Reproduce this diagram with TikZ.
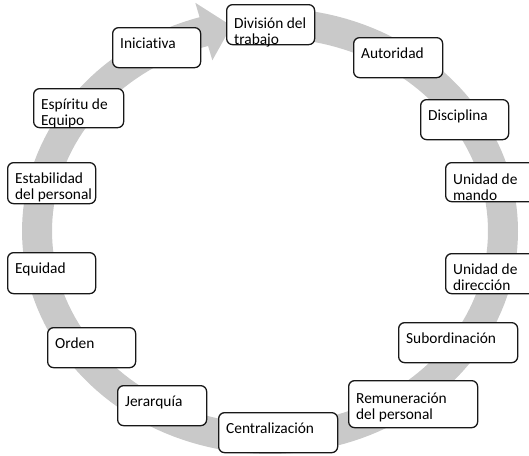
\documentclass[tikz,border=0pt]{standalone}
\usepackage{fontspec}
\setmainfont{Carlito}[Ligatures=NoCommon]
\definecolor{ringgray}{RGB}{201,201,201}
\definecolor{cardline}{RGB}{24,24,24}
\newcommand\cardfont{\fontsize{15.4pt}{15.8pt}\selectfont}
% card body: width, height, first-baseline offset, text
\newcommand\cardbody[4]{\parbox[c][#2pt][t]{#1pt}{\leftskip=7.5pt\rightskip=0pt plus 1fil\rule{0pt}{#3pt}#4}}
\tikzset{
  card/.style={draw=cardline, line width=1.3pt, rounded corners=6pt, fill=white,
    inner sep=0pt, anchor=north west, font=\cardfont},
  ring/.style={fill=ringgray}
}
\begin{document}
\begin{tikzpicture}[x=1pt,y=-1pt]
\useasboundingbox (0,0) rectangle (529,455);

% circular arrow running clockwise
\begin{scope}[shift={(270,231)}]
  \fill[ring] plot[domain=-85:253.5, samples=160] (\x:248 and 223)
    -- (253.5:263 and 238) -- (260.5:233 and 208) -- (253.5:203 and 178)
    -- plot[domain=253.5:-85, samples=160] (\x:218 and 193) -- cycle;
\end{scope}

% the fourteen principles
\node[card] (div) at (226,4)   {\cardbody{88}{40}{24}{División del\\trabajo}};
\node[card] (aut) at (353,37)  {\cardbody{89}{40}{21}{Autoridad}};
\node[card] (dis) at (420,99)  {\cardbody{88}{40}{21}{Disciplina}};
\node[card] (umd) at (445,162) {\cardbody{92}{39}{22}{Unidad de\\mando}};
\node[card] (udr) at (445,253) {\cardbody{92}{40}{21}{Unidad de\\dirección}};
\node[card] (sub) at (398,322) {\cardbody{119}{40}{21}{Subordinación}};
\node[card] (rem) at (348,380) {\cardbody{129}{47}{23}{Remuneración\\del personal}};
\node[card] (cen) at (218,412) {\cardbody{119}{40}{21}{Centralización}};
\node[card] (jer) at (117,385) {\cardbody{89}{40}{21}{Jerarquía}};
\node[card] (ord) at (47,327)  {\cardbody{88}{40}{21}{Orden}};
\node[card] (equ) at (7,252)   {\cardbody{88}{41}{21}{Equidad}};
\node[card] (est) at (7,162)   {\cardbody{88}{41}{21}{Estabilidad\\del personal}};
\node[card] (esp) at (33,88)   {\cardbody{90}{39}{21}{Espíritu de\\Equipo}};
\node[card] (ini) at (112,27)  {\cardbody{88}{40}{21}{Iniciativa}};
\end{tikzpicture}
\end{document}
